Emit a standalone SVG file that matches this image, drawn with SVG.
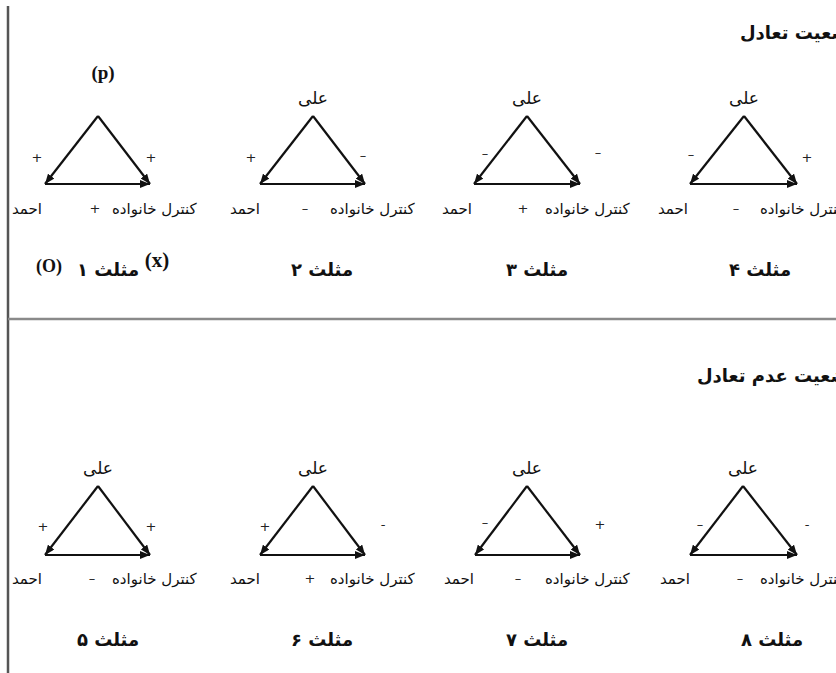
<svg xmlns="http://www.w3.org/2000/svg" width="836" height="673" viewBox="0 0 836 673">
<defs>
<style>
.fa{font-family:"DejaVu Sans","Noto Sans",sans-serif;font-size:15px;fill:#111}
.top{font-family:"DejaVu Sans","Noto Sans",sans-serif;font-size:17px;fill:#111}
.sg{font-family:"DejaVu Sans",sans-serif;font-size:13px;fill:#222;text-anchor:middle}
.tt{font-family:"DejaVu Sans","Noto Sans",sans-serif;font-size:18px;font-weight:bold;fill:#111;text-anchor:middle}
.hd{font-family:"DejaVu Sans","Noto Sans",sans-serif;font-size:18px;font-weight:bold;fill:#111}
.lt{font-family:"Liberation Serif",serif;font-weight:bold;fill:#111;text-anchor:middle}
.ar{stroke:#111;stroke-width:2.2;fill:none;marker-end:url(#ah)}
.mid{text-anchor:middle}
.st{text-anchor:start}
</style>
<marker id="ah" viewBox="0 0 10 8" refX="10" refY="4" markerWidth="10" markerHeight="8" markerUnits="userSpaceOnUse" orient="auto"><path d="M0,0 L10,4 L0,8 z" fill="#111"/></marker>
</defs>
<rect width="836" height="673" fill="#fff"/>
<g id="frame">
<line x1="8" y1="6" x2="8" y2="673" stroke="#555" stroke-width="2.5"/>
<line x1="8" y1="319" x2="836" y2="319" stroke="#8a8a8a" stroke-width="2.5"/>
</g>
<g id="titles">
<text class="hd st" x="740" y="39">وضعیت تعادل</text>
<text class="hd st" x="697" y="382">وضعیت عدم تعادل</text>
</g>
<g id="connectors">
<line class="ar" x1="98" y1="116" x2="45" y2="184"/><line class="ar" x1="98" y1="116" x2="150" y2="184"/><line class="ar" x1="45" y1="184" x2="150" y2="184"/>
<line class="ar" x1="313" y1="116" x2="260" y2="184"/><line class="ar" x1="313" y1="116" x2="365" y2="184"/><line class="ar" x1="260" y1="184" x2="365" y2="184"/>
<line class="ar" x1="527" y1="116" x2="474" y2="184"/><line class="ar" x1="527" y1="116" x2="580" y2="184"/><line class="ar" x1="474" y1="184" x2="580" y2="184"/>
<line class="ar" x1="744" y1="116" x2="690" y2="184"/><line class="ar" x1="744" y1="116" x2="797" y2="184"/><line class="ar" x1="690" y1="184" x2="797" y2="184"/>
<line class="ar" x1="98" y1="486" x2="45" y2="555"/><line class="ar" x1="98" y1="486" x2="150" y2="555"/><line class="ar" x1="45" y1="555" x2="150" y2="555"/>
<line class="ar" x1="313" y1="486" x2="260" y2="555"/><line class="ar" x1="313" y1="486" x2="365" y2="555"/><line class="ar" x1="260" y1="555" x2="365" y2="555"/>
<line class="ar" x1="527" y1="486" x2="475" y2="555"/><line class="ar" x1="527" y1="486" x2="580" y2="555"/><line class="ar" x1="475" y1="555" x2="580" y2="555"/>
<line class="ar" x1="743" y1="486" x2="690" y2="555"/><line class="ar" x1="743" y1="486" x2="797" y2="555"/><line class="ar" x1="690" y1="555" x2="797" y2="555"/>
</g>
<g id="tri1">
<g id="tri1-p"><text class="lt" x="103" y="79" font-size="19">(p)</text></g>
<g id="tri1-ahmad"><text class="fa mid" x="27" y="214">احمد</text></g>
<g id="tri1-control"><text class="fa st" x="112" y="214">کنترل خانواده</text></g>
<text class="sg" x="37" y="162">+</text><text class="sg" x="151" y="162">+</text><text class="sg" x="95" y="213">+</text>
<text class="lt" x="49" y="272" font-size="18">(O)</text>
<text class="tt" x="108" y="276">مثلث ۱</text>
<text class="lt" x="157" y="267" font-size="21">(x)</text>
</g>
<g id="tri2">
<g id="tri2-ali"><text class="top mid" x="313" y="104">علی</text></g>
<g id="tri2-ahmad"><text class="fa mid" x="245" y="214">احمد</text></g>
<g id="tri2-control"><text class="fa st" x="330" y="214">کنترل خانواده</text></g>
<text class="sg" x="251" y="162">+</text><text class="sg" x="363" y="160">–</text><text class="sg" x="305" y="213">–</text>
<text class="tt" x="322" y="276">مثلث ۲</text>
</g>
<g id="tri3">
<g id="tri3-ali"><text class="top mid" x="527" y="104">علی</text></g>
<g id="tri3-ahmad"><text class="fa mid" x="457" y="214">احمد</text></g>
<g id="tri3-control"><text class="fa st" x="545" y="214">کنترل خانواده</text></g>
<text class="sg" x="485" y="158">–</text><text class="sg" x="598" y="157">–</text><text class="sg" x="523" y="213">+</text>
<text class="tt" x="537" y="276">مثلث ۳</text>
</g>
<g id="tri4">
<g id="tri4-ali"><text class="top mid" x="744" y="104">علی</text></g>
<g id="tri4-ahmad"><text class="fa mid" x="673" y="214">احمد</text></g>
<g id="tri4-control"><text class="fa st" x="760" y="214">کنترل خانواده</text></g>
<text class="sg" x="691" y="159">–</text><text class="sg" x="807" y="162">+</text><text class="sg" x="736" y="213">–</text>
<text class="tt" x="760" y="276">مثلث ۴</text>
</g>
<g id="tri5">
<g id="tri5-ali"><text class="top mid" x="98" y="474">علی</text></g>
<g id="tri5-ahmad"><text class="fa mid" x="27" y="584">احمد</text></g>
<g id="tri5-control"><text class="fa st" x="112" y="584">کنترل خانواده</text></g>
<text class="sg" x="43" y="531">+</text><text class="sg" x="151" y="531">+</text><text class="sg" x="92" y="583">–</text>
<text class="tt" x="108" y="646">مثلث ۵</text>
</g>
<g id="tri6">
<g id="tri6-ali"><text class="top mid" x="313" y="474">علی</text></g>
<g id="tri6-ahmad"><text class="fa mid" x="245" y="584">احمد</text></g>
<g id="tri6-control"><text class="fa st" x="330" y="584">کنترل خانواده</text></g>
<text class="sg" x="265" y="531">+</text><text class="sg" x="383" y="529">-</text><text class="sg" x="310" y="583">+</text>
<text class="tt" x="322" y="646">مثلث ۶</text>
</g>
<g id="tri7">
<g id="tri7-ali"><text class="top mid" x="527" y="474">علی</text></g>
<g id="tri7-ahmad"><text class="fa mid" x="459" y="584">احمد</text></g>
<g id="tri7-control"><text class="fa st" x="545" y="584">کنترل خانواده</text></g>
<text class="sg" x="485" y="527">–</text><text class="sg" x="600" y="529">+</text><text class="sg" x="518" y="583">–</text>
<text class="tt" x="537" y="646">مثلث ۷</text>
</g>
<g id="tri8">
<g id="tri8-ali"><text class="top mid" x="743" y="474">علی</text></g>
<g id="tri8-ahmad"><text class="fa mid" x="675" y="584">احمد</text></g>
<g id="tri8-control"><text class="fa st" x="760" y="584">کنترل خانواده</text></g>
<text class="sg" x="700" y="529">–</text><text class="sg" x="807" y="529">-</text><text class="sg" x="740" y="583">–</text>
<text class="tt" x="772" y="646">مثلث ۸</text>
</g>
</svg>
